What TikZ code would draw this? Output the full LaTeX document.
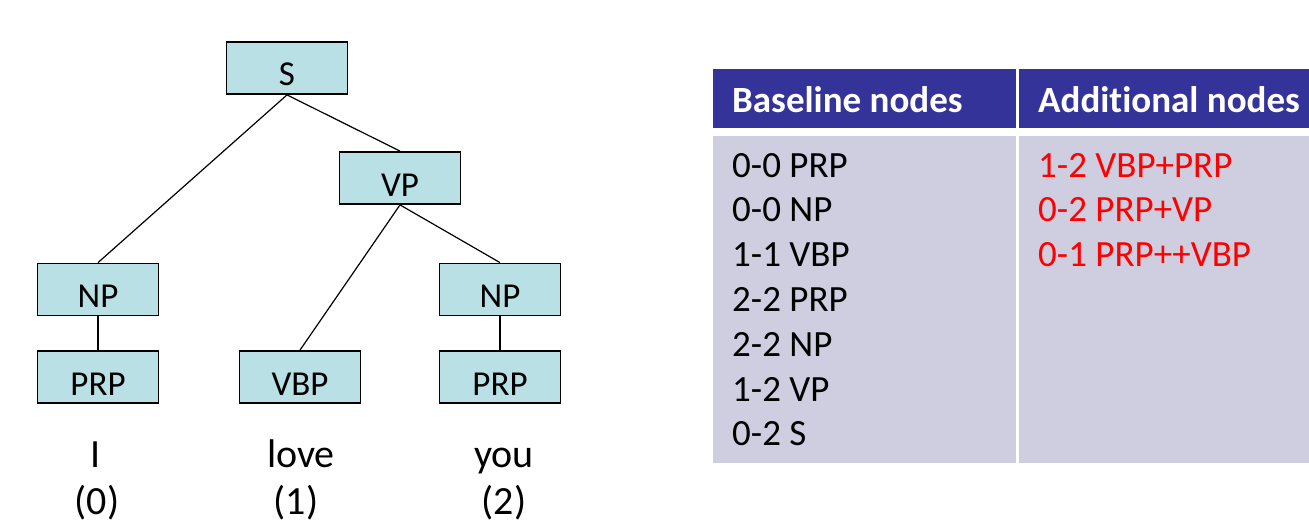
\documentclass[tikz,border=0pt]{standalone}
\usepackage{fontspec}
\setmainfont[Ligatures=NoCommon]{Carlito}
\definecolor{boxfill}{RGB}{185,224,228}
\definecolor{headblue}{RGB}{51,51,153}
\definecolor{bodylav}{RGB}{206,206,224}

\begin{document}
\begin{tikzpicture}[x=1pt, y=-1pt,
  treebox/.style={rectangle, draw, line width=1.8pt, fill=boxfill, minimum width=121pt, minimum height=52pt, inner sep=2pt, text height=36pt, text depth=0pt, font=\fontsize{35}{42}\selectfont},
  branch/.style={line width=1.2pt},
  wordlbl/.style={anchor=base, inner sep=0pt, font=\fontsize{40}{48}\selectfont},
  headtxt/.style={anchor=base west, inner sep=0pt, text=white, font=\fontsize{37}{44}\selectfont\bfseries},
  celltxt/.style={anchor=base west, inner sep=0pt, font=\fontsize{37}{44}\selectfont}]
\useasboundingbox (0,0) rectangle (1309,524);

% parse tree
\node [treebox] (s) at (287,68) {S};
\node [treebox] (vp) at (400,178) {VP};
\node [treebox] (npl) at (98,289.5) {NP};
\node [treebox] (prpl) at (98,377) {PRP};
\node [treebox] (vbp) at (300,377) {VBP};
\node [treebox] (npr) at (500,289.5) {NP};
\node [treebox] (prpr) at (500,377) {PRP};

\draw[branch] (s.south) -- (npl.north);
\draw[branch] (s.south) -- (vp.north);
\draw[branch] (vp.south) -- (vbp.north);
\draw[branch] (vp.south) -- (npr.north);
\draw[branch] (npl.south) -- (prpl.north);
\draw[branch] (npr.south) -- (prpr.north);

% words and positions
\node [wordlbl] (w0) at (96,467) {I};
\node [wordlbl] (w1) at (301,467) {love};
\node [wordlbl] (w2) at (504,467) {you};
\node [wordlbl] (i0) at (97,514) {(0)};
\node [wordlbl] (i1) at (296,514) {(1)};
\node [wordlbl] (i2) at (504,514) {(2)};

% table
\fill[headblue] (713,69) rectangle (1016,128);
\fill[headblue] (1019,69) rectangle (1309,128);
\fill[bodylav] (713,136) rectangle (1016,463);
\fill[bodylav] (1019,136) rectangle (1309,463);

\node [headtxt] (hbase) at (732,113) {Baseline nodes};
\node [headtxt] (hadd) at (1038,113) {Additional nodes};

\foreach \lbl [count=\i from 0] in {0-0 PRP, 0-0 NP, 1-1 VBP, 2-2 PRP, 2-2 NP, 1-2 VP, 0-2 S}
  \node [celltxt] (b\i) at (732,{177+44.8*\i}) {\lbl};
\foreach \lbl [count=\i from 0] in {1-2 VBP+PRP, 0-2 PRP+VP, 0-1 PRP++VBP}
  \node [celltxt, text=red] (a\i) at (1038,{177+44.8*\i}) {\lbl};
\end{tikzpicture}
\end{document}
